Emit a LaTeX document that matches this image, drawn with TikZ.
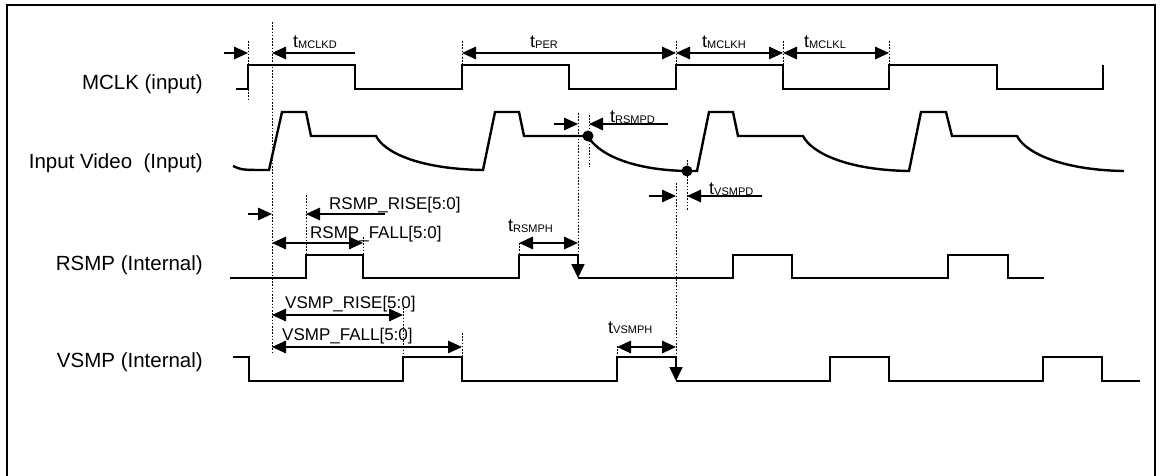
\documentclass[tikz,border=0pt]{standalone}
\usepackage{fontspec}
\setmainfont{Liberation Sans}
\usetikzlibrary{arrows.meta}
\tikzset{
  frame/.style={line width=1.3pt},
  wave/.style={line width=1.7pt, line join=miter},
  vid/.style={line width=2.4pt, line join=miter},
  dim/.style={line width=1.5pt},
  guide/.style={line width=1pt, dash pattern=on 1.6pt off 1.6pt},
  arr/.style={dim, -{Triangle[length=14pt,width=12.5pt]}},
  darr/.style={dim, {Triangle[length=14pt,width=12.5pt]}-{Triangle[length=14pt,width=12.5pt]}},
  downarr/.style={wave, -{Triangle[length=14pt,width=13pt]}},
  siglabel/.style={anchor=east, inner sep=0pt, font=\fontsize{20.5}{24}\selectfont},
  reglabel/.style={anchor=base west, inner sep=0pt, font=\fontsize{17}{20}\selectfont},
  tlabel/.style={anchor=base west, inner sep=0pt},
  sampledot/.style={circle, fill=black, inner sep=0pt, minimum size=11pt},
}
\newcommand{\tsub}[1]{{\fontsize{18}{20}\selectfont t}{\fontsize{11}{12}\selectfont\raisebox{-0.8pt}{#1}}}
\begin{document}
\begin{tikzpicture}[x=1pt, y=-1pt]
\useasboundingbox (0,0) rectangle (1163,476);
\clip (0,0) rectangle (1163,476);
\fill[white] (0,0) rectangle (1163,476);
\draw[frame] (7,5) rectangle (1155,490);

% signal labels
\node[siglabel] (lmclk) at (203,84) {MCLK (input)};
\node[siglabel] (lvid) at (203,163) {Input Video~ (Input)};
\node[siglabel] (lrsmp) at (203,265) {RSMP (Internal)};
\node[siglabel] (lvsmp) at (203,362) {VSMP (Internal)};

% guide (dotted) lines
\draw[guide] (248,41) -- (248,100);
\draw[guide] (272,22) -- (272,353);
\draw[guide] (462,41) -- (462,65);
\draw[guide] (676,41) -- (676,65);
\draw[guide] (783,41) -- (783,65);
\draw[guide] (889,41) -- (889,65);
\draw[guide] (578,113) -- (578,255);
\draw[guide] (589,115) -- (589,167);
\draw[guide] (676,183) -- (676,357);
\draw[guide] (687,160) -- (687,210);
\draw[guide] (306,195) -- (306,255);
\draw[guide] (363,237) -- (363,255);
\draw[guide] (519,243) -- (519,255);
\draw[guide] (403,308) -- (403,357);
\draw[guide] (462,333) -- (462,357);
\draw[guide] (617,346) -- (617,357);

% MCLK
\draw[wave] (236,89) -- (248,89) -- (248,65) -- (355,65) -- (355,89) -- (462,89) -- (462,65)
  -- (569,65) -- (569,89) -- (676,89) -- (676,65) -- (783,65) -- (783,89) -- (889,89)
  -- (889,65) -- (997,65) -- (997,89) -- (1103,89) -- (1103,65);

% Input video
\draw[vid] (233,166) .. controls (242,170) .. (269,170) -- (282,112) -- (306,112) -- (311,136)
  -- (376,136) .. controls (384,152) and (418,169) .. (483,170) -- (495,112) -- (519,112) -- (524,136)
  -- (588,136) .. controls (596,152) and (628,170) .. (687,171) -- (697,171) -- (709,112) -- (733,112) -- (738,136)
  -- (803,136) .. controls (811,152) and (845,170) .. (909,171) -- (921,112) -- (946,112) -- (952,136)
  -- (1017,136) .. controls (1025,152) and (1060,170) .. (1124,171);
\node[sampledot] (d1) at (588,136) {};
\node[sampledot] (d2) at (687,171) {};

% RSMP
\draw[wave] (230,278) -- (306,278) -- (306,255) -- (363,255) -- (363,278) -- (519,278) -- (519,255) -- (578,255);
\draw[downarr] (578,255) -- (578,278);
\draw[wave] (578,278) -- (733,278) -- (733,255) -- (792,255) -- (792,278) -- (948,278) -- (948,255)
  -- (1008,255) -- (1008,278) -- (1044,278);

% VSMP
\draw[wave] (233,357) -- (249,357) -- (249,381) -- (403,381) -- (403,357) -- (462,357) -- (462,381)
  -- (617,381) -- (617,357) -- (676,357);
\draw[downarr] (676,357) -- (676,381);
\draw[wave] (676,381) -- (830,381) -- (830,357) -- (889,357) -- (889,381) -- (1043,381) -- (1043,357)
  -- (1102,357) -- (1102,381) -- (1140,381);

% MCLK dimensions
\draw[arr] (224,53) -- (248,53);
\draw[arr] (355,53) -- (272,53);
\draw[darr] (462,53) -- (676,53);
\draw[darr] (676,53) -- (783,53);
\draw[darr] (783,53) -- (889,53);
\node[tlabel] (tmclkd) at (293,48) {\tsub{MCLKD}};
\node[tlabel] (tper) at (530,48) {\tsub{PER}};
\node[tlabel] (tmclkh) at (702,48) {\tsub{MCLKH}};
\node[tlabel] (tmclkl) at (804,48) {\tsub{MCLKL}};

% RSMPD / VSMPD
\draw[arr] (554,124) -- (578,124);
\draw[arr] (668,124) -- (589,124);
\node[tlabel] (trsmpd) at (610,123) {\tsub{RSMPD}};
\draw[arr] (649,196) -- (676,196);
\draw[arr] (762,196) -- (687,196);
\node[tlabel] (tvsmpd) at (709,195) {\tsub{VSMPD}};

% RSMP dimensions
\draw[arr] (248,214) -- (272,214);
\draw[arr] (385,214) -- (306,214);
\node[reglabel] (rrise) at (329,210) {RSMP\_RISE[5:0]};
\draw[darr] (272,243) -- (363,243);
\node[reglabel] (rfall) at (310,238) {RSMP\_FALL[5:0]};
\draw[darr] (519,243) -- (578,243);
\node[tlabel] (trsmph) at (508,232) {\tsub{RSMPH}};

% VSMP dimensions
\draw[darr] (272,315) -- (403,315);
\node[reglabel] (vrise) at (285,308) {VSMP\_RISE[5:0]};
\draw[darr] (272,347) -- (462,347);
\node[reglabel] (vfall) at (282,340) {VSMP\_FALL[5:0]};
\draw[darr] (617,347) -- (676,347);
\node[tlabel] (tvsmph) at (608,333) {\tsub{VSMPH}};
\end{tikzpicture}
\end{document}
